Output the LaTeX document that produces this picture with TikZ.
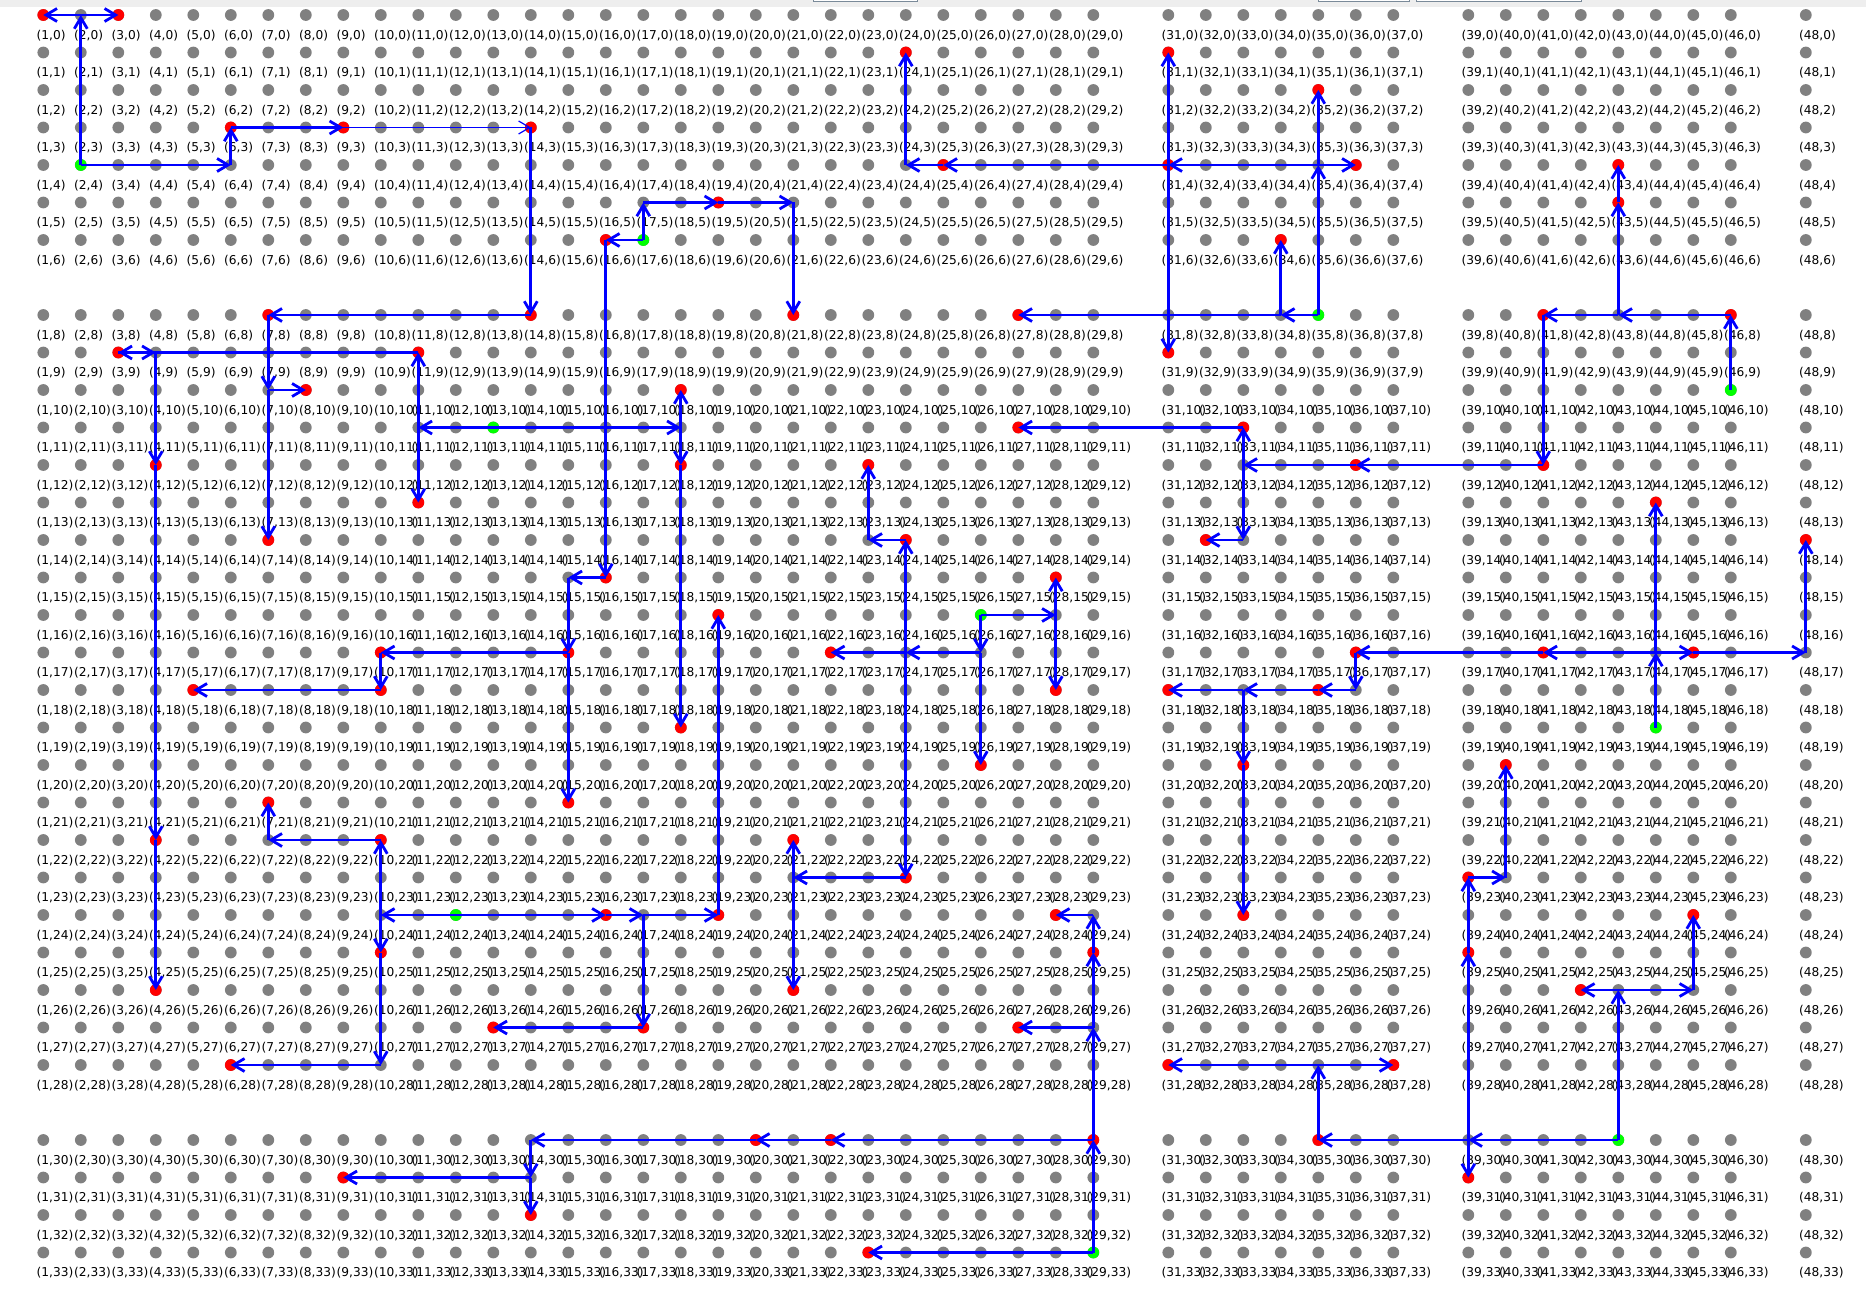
\documentclass[tikz,border=0pt]{standalone}
\usepackage{fontspec}
\setmainfont{DejaVu Sans}
\usepackage{tikz}
\usetikzlibrary{arrows.meta}
\definecolor{GridGray}{HTML}{808080}
\definecolor{PathBlue}{HTML}{0000FF}
\definecolor{NodeRed}{HTML}{FF0000}
\definecolor{NodeGreen}{HTML}{00FF00}
\definecolor{BarGray}{HTML}{EEEEEE}
\definecolor{FrameGray}{HTML}{7A8A99}
\tikzset{
    % Base dot style
    basedot/.style={
        circle,
        inner sep=0pt,
        minimum size=11.8bp
    },
    % Grid point
    griddot/.style={
        basedot,
        fill=GridGray
    },
    % Reached point
    reddot/.style={
        basedot,
        fill=NodeRed
    },
    % Start point
    greendot/.style={
        basedot,
        fill=NodeGreen
    },
    % Coordinate label
    coordlabel/.style={
        anchor=base west,
        inner sep=0pt,
        text=black,
        font=\fontsize{12.2bp}{14bp}\selectfont
    },
    % Arrow styles (straight lines only)
    myarrow/.style={
        -{Straight Barb[length=11bp,width=13bp]},
        line width=2.8bp,
        draw=PathBlue
    },
    % Thin arrow
    thinarrow/.style={
        myarrow,
        line width=1.2bp
    }
}
\begin{document}
\begin{tikzpicture}[x=1bp, y=-1bp]
    \useasboundingbox (0,0) rectangle (1866,1309);
    \fill[BarGray] (0,0) rectangle (1866,7.5);
    \draw[FrameGray, fill=white, line width=1bp] (813,-2) rectangle (917,1.5);
    \draw[FrameGray, fill=white, line width=1bp] (1318,-2) rectangle (1409,1.5);
    \draw[FrameGray, fill=white, line width=1bp] (1416,-2) rectangle (1581,1.5);

    \foreach \c in {1,...,29,31,32,...,37,39,40,...,46,48}
        \foreach \r in {0,...,6,8,9,...,28,30,31,32,33} {
            \node[griddot] (d-\c-\r) at ({43.3+(\c-1)*37.5},{15+\r*37.5}) {};
            \node[coordlabel] (t-\c-\r) at ({36.5+(\c-1)*37.5},{39.3+\r*37.5}) {(\c,\r)};
        }

    \foreach \c/\r in {1/0,3/0,6/3,9/3,14/3,14/8,7/8,8/10,7/14,11/9,3/9,4/12,4/22,4/26,
        11/13,18/10,18/12,18/19,16/6,19/5,21/8,16/15,15/17,15/21,10/17,10/18,5/18,
        10/22,7/21,10/25,6/28,16/24,19/24,17/27,13/27,19/16,24/1,25/4,31/4,36/4,35/2,
        31/1,31/9,34/6,27/8,27/11,33/11,36/12,41/12,32/14,46/8,41/8,43/5,43/4,28/15,
        28/18,26/20,22/17,24/14,23/12,24/23,21/22,21/26,44/13,45/17,48/14,41/17,36/17,
        35/18,31/18,33/20,33/24,35/30,31/28,37/28,39/31,39/25,39/23,40/20,42/26,45/24,
        29/30,29/25,28/24,27/27,22/30,20/30,14/32,9/31,23/33}
        \node[reddot] (r-\c-\r) at (d-\c-\r) {};
    \foreach \c/\r in {2/4,17/6,13/11,12/24,26/16,35/8,46/10,44/19,43/30,29/33}
        \node[greendot] (g-\c-\r) at (d-\c-\r) {};

    \draw[myarrow] (d-2-4.center) -- (d-2-0.center);
    \draw[myarrow] (d-2-0.center) -- (d-1-0.center);
    \draw[myarrow] (d-2-0.center) -- (d-3-0.center);
    \draw[myarrow] (d-2-4.center) -- (d-6-4.center);
    \draw[myarrow] (d-6-4.center) -- (d-6-3.center);
    \draw[myarrow] (d-6-3.center) -- (d-9-3.center);
    \draw[thinarrow] (d-9-3.center) -- (d-14-3.center);
    \draw[myarrow] (d-14-3.center) -- (d-14-8.center);
    \draw[myarrow] (d-14-8.center) -- (d-7-8.center);
    \draw[myarrow] (d-7-8.center) -- (d-7-10.center);
    \draw[myarrow] (d-7-10.center) -- (d-8-10.center);
    \draw[myarrow] (d-7-10.center) -- (d-7-14.center);

    \draw[myarrow] (d-17-6.center) -- (d-16-6.center);
    \draw[myarrow] (d-17-6.center) -- (d-17-5.center);
    \draw[myarrow] (d-17-5.center) -- (d-19-5.center);
    \draw[myarrow] (d-19-5.center) -- (d-21-5.center);
    \draw[myarrow] (d-21-5.center) -- (d-21-8.center);
    \draw[myarrow] (d-16-6.center) -- (d-16-15.center);
    \draw[myarrow] (d-16-15.center) -- (d-15-15.center);
    \draw[myarrow] (d-15-15.center) -- (d-15-17.center);
    \draw[myarrow] (d-15-17.center) -- (d-15-21.center);
    \draw[myarrow] (d-15-17.center) -- (d-10-17.center);
    \draw[myarrow] (d-10-17.center) -- (d-10-18.center);
    \draw[myarrow] (d-10-18.center) -- (d-5-18.center);

    \draw[myarrow] (d-13-11.center) -- (d-11-11.center);
    \draw[myarrow] (d-11-11.center) -- (d-11-9.center);
    \draw[myarrow] (d-11-11.center) -- (d-11-13.center);
    \draw[myarrow] (d-11-9.center) -- (d-3-9.center);
    \draw[myarrow] (d-3-9.center) -- (d-4-9.center);
    \draw[myarrow] (d-4-9.center) -- (d-4-12.center);
    \draw[myarrow] (d-4-12.center) -- (d-4-22.center);
    \draw[myarrow] (d-4-22.center) -- (d-4-26.center);
    \draw[myarrow] (d-13-11.center) -- (d-18-11.center);
    \draw[myarrow] (d-18-11.center) -- (d-18-10.center);
    \draw[myarrow] (d-18-11.center) -- (d-18-12.center);
    \draw[myarrow] (d-18-12.center) -- (d-18-19.center);

    \draw[myarrow] (d-12-24.center) -- (d-10-24.center);
    \draw[myarrow] (d-10-24.center) -- (d-10-22.center);
    \draw[myarrow] (d-10-22.center) -- (d-7-22.center);
    \draw[myarrow] (d-7-22.center) -- (d-7-21.center);
    \draw[myarrow] (d-10-24.center) -- (d-10-25.center);
    \draw[myarrow] (d-10-25.center) -- (d-10-28.center);
    \draw[myarrow] (d-10-28.center) -- (d-6-28.center);
    \draw[myarrow] (d-12-24.center) -- (d-16-24.center);
    \draw[myarrow] (d-16-24.center) -- (d-17-24.center);
    \draw[myarrow] (d-17-24.center) -- (d-19-24.center);
    \draw[myarrow] (d-17-24.center) -- (d-17-27.center);
    \draw[myarrow] (d-17-27.center) -- (d-13-27.center);
    \draw[myarrow] (d-19-24.center) -- (d-19-16.center);

    \draw[myarrow] (d-26-16.center) -- (d-28-16.center);
    \draw[myarrow] (d-28-16.center) -- (d-28-15.center);
    \draw[myarrow] (d-28-16.center) -- (d-28-18.center);
    \draw[myarrow] (d-26-16.center) -- (d-26-17.center);
    \draw[myarrow] (d-26-17.center) -- (d-26-20.center);
    \draw[myarrow] (d-26-17.center) -- (d-24-17.center);
    \draw[myarrow] (d-24-17.center) -- (d-22-17.center);
    \draw[myarrow] (d-24-17.center) -- (d-24-14.center);
    \draw[myarrow] (d-24-14.center) -- (d-23-14.center);
    \draw[myarrow] (d-23-14.center) -- (d-23-12.center);
    \draw[myarrow] (d-24-17.center) -- (d-24-23.center);
    \draw[myarrow] (d-24-23.center) -- (d-21-23.center);
    \draw[myarrow] (d-21-23.center) -- (d-21-22.center);
    \draw[myarrow] (d-21-23.center) -- (d-21-26.center);

    \draw[myarrow] (d-35-8.center) -- (d-35-4.center);
    \draw[myarrow] (d-35-4.center) -- (d-35-2.center);
    \draw[myarrow] (d-35-4.center) -- (d-36-4.center);
    \draw[myarrow] (d-35-4.center) -- (d-31-4.center);
    \draw[myarrow] (d-31-4.center) -- (d-31-1.center);
    \draw[myarrow] (d-31-4.center) -- (d-31-9.center);
    \draw[myarrow] (d-31-4.center) -- (d-25-4.center);
    \draw[myarrow] (d-25-4.center) -- (d-24-4.center);
    \draw[myarrow] (d-24-4.center) -- (d-24-1.center);
    \draw[myarrow] (d-35-8.center) -- (d-34-8.center);
    \draw[myarrow] (d-34-8.center) -- (d-34-6.center);
    \draw[myarrow] (d-34-8.center) -- (d-27-8.center);

    \draw[myarrow] (d-46-10.center) -- (d-46-8.center);
    \draw[myarrow] (d-46-8.center) -- (d-43-8.center);
    \draw[myarrow] (d-43-8.center) -- (d-43-5.center);
    \draw[myarrow] (d-43-5.center) -- (d-43-4.center);
    \draw[myarrow] (d-43-8.center) -- (d-41-8.center);
    \draw[myarrow] (d-41-8.center) -- (d-41-12.center);
    \draw[myarrow] (d-41-12.center) -- (d-36-12.center);
    \draw[myarrow] (d-36-12.center) -- (d-33-12.center);
    \draw[myarrow] (d-33-12.center) -- (d-33-11.center);
    \draw[myarrow] (d-33-11.center) -- (d-27-11.center);
    \draw[myarrow] (d-33-12.center) -- (d-33-14.center);
    \draw[myarrow] (d-33-14.center) -- (d-32-14.center);

    \draw[myarrow] (d-44-19.center) -- (d-44-17.center);
    \draw[myarrow] (d-44-17.center) -- (d-44-13.center);
    \draw[myarrow] (d-44-17.center) -- (d-45-17.center);
    \draw[myarrow] (d-45-17.center) -- (d-48-17.center);
    \draw[myarrow] (d-48-17.center) -- (d-48-14.center);
    \draw[myarrow] (d-44-17.center) -- (d-41-17.center);
    \draw[myarrow] (d-41-17.center) -- (d-36-17.center);
    \draw[myarrow] (d-36-17.center) -- (d-36-18.center);
    \draw[myarrow] (d-36-18.center) -- (d-35-18.center);
    \draw[myarrow] (d-35-18.center) -- (d-33-18.center);
    \draw[myarrow] (d-33-18.center) -- (d-31-18.center);
    \draw[myarrow] (d-33-18.center) -- (d-33-20.center);
    \draw[myarrow] (d-33-20.center) -- (d-33-24.center);

    \draw[myarrow] (d-43-30.center) -- (d-39-30.center);
    \draw[myarrow] (d-39-30.center) -- (d-39-31.center);
    \draw[myarrow] (d-39-30.center) -- (d-39-25.center);
    \draw[myarrow] (d-39-25.center) -- (d-39-23.center);
    \draw[myarrow] (d-39-23.center) -- (d-40-23.center);
    \draw[myarrow] (d-40-23.center) -- (d-40-20.center);
    \draw[myarrow] (d-39-30.center) -- (d-35-30.center);
    \draw[myarrow] (d-35-30.center) -- (d-35-28.center);
    \draw[myarrow] (d-35-28.center) -- (d-31-28.center);
    \draw[myarrow] (d-35-28.center) -- (d-37-28.center);
    \draw[myarrow] (d-43-30.center) -- (d-43-26.center);
    \draw[myarrow] (d-43-26.center) -- (d-42-26.center);
    \draw[myarrow] (d-43-26.center) -- (d-45-26.center);
    \draw[myarrow] (d-45-26.center) -- (d-45-24.center);

    \draw[myarrow] (d-29-33.center) -- (d-29-30.center);
    \draw[myarrow] (d-29-30.center) -- (d-29-27.center);
    \draw[myarrow] (d-29-27.center) -- (d-27-27.center);
    \draw[myarrow] (d-29-27.center) -- (d-29-25.center);
    \draw[myarrow] (d-29-25.center) -- (d-29-24.center);
    \draw[myarrow] (d-29-24.center) -- (d-28-24.center);
    \draw[myarrow] (d-29-30.center) -- (d-22-30.center);
    \draw[myarrow] (d-22-30.center) -- (d-20-30.center);
    \draw[myarrow] (d-20-30.center) -- (d-14-30.center);
    \draw[myarrow] (d-14-30.center) -- (d-14-31.center);
    \draw[myarrow] (d-14-31.center) -- (d-9-31.center);
    \draw[myarrow] (d-14-31.center) -- (d-14-32.center);
    \draw[myarrow] (d-29-33.center) -- (d-23-33.center);
\end{tikzpicture}
\end{document}
